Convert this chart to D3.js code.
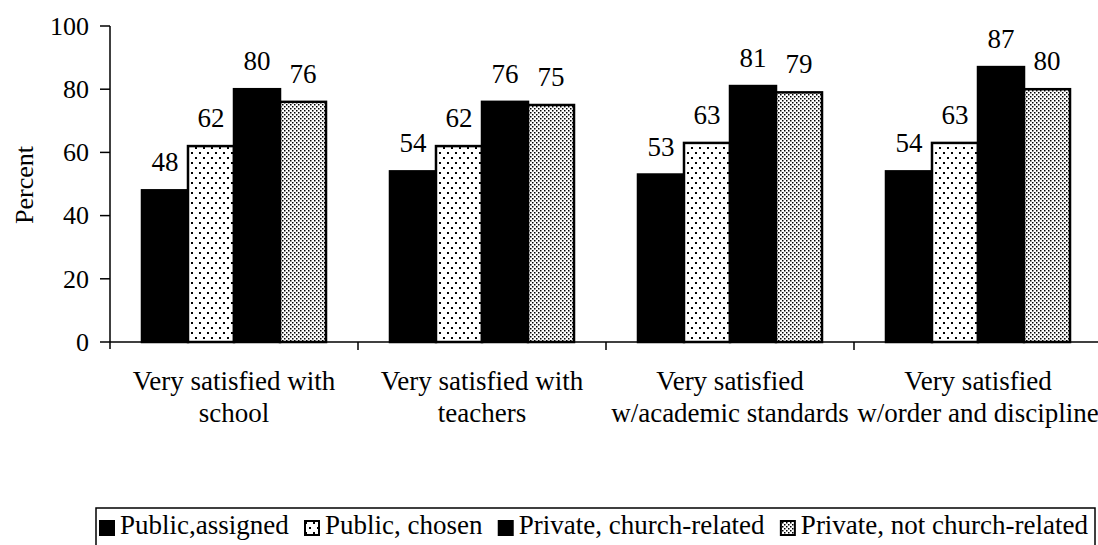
<!DOCTYPE html>
<html>
<head>
<meta charset="utf-8">
<script src="https://cdn.jsdelivr.net/npm/d3@7"></script>
<style>
  html, body { margin: 0; padding: 0; background: #fff; }
  svg { display: block; }
</style>
</head>
<body>
<div id="chart"></div>
<script>
// chart data
const categories = [
    ["Very satisfied with", "school"],
    ["Very satisfied with", "teachers"],
    ["Very satisfied", "w/academic standards"],
    ["Very satisfied", "w/order and discipline"]
];
const seriesNames = ["Public,assigned", "Public, chosen", "Private, church-related", "Private, not church-related"];
const publicAssigned = [48, 54, 53, 54];
const publicChosen = [62, 62, 63, 63];
const privateChurch = [80, 76, 81, 87];
const privateNotChurch = [76, 75, 79, 80];
const yTicks = [0, 20, 40, 60, 80, 100];

const seriesValues = [publicAssigned, publicChosen, privateChurch, privateNotChurch];
const fills = ["#000", "url(#dots)", "#000", "url(#dense)"];

const W = 1098, H = 545;
const svg = d3.select("#chart").append("svg")
    .attr("width", W).attr("height", H)
    .attr("font-family", "'Liberation Serif', Tinos, 'Times New Roman', 'DejaVu Serif', serif")
    .style("font-family", "'Liberation Serif', Tinos, 'Times New Roman', 'DejaVu Serif', serif");

// patterns
const defs = svg.append("defs");
const dots = defs.append("pattern").attr("id", "dots")
    .attr("patternUnits", "userSpaceOnUse").attr("width", 8).attr("height", 10);
dots.append("rect").attr("width", 8).attr("height", 10).attr("fill", "#fff");
dots.append("rect").attr("x", 1).attr("y", 2).attr("width", 2).attr("height", 2).attr("fill", "#000");
dots.append("rect").attr("x", 5).attr("y", 7).attr("width", 2).attr("height", 2).attr("fill", "#000");

const dense = defs.append("pattern").attr("id", "dense")
    .attr("patternUnits", "userSpaceOnUse").attr("width", 4).attr("height", 4);
dense.append("rect").attr("width", 4).attr("height", 4).attr("fill", "#fff");
dense.append("rect").attr("x", 0).attr("y", 0).attr("width", 1.5).attr("height", 1.5).attr("fill", "#000");
dense.append("rect").attr("x", 2).attr("y", 2).attr("width", 1.5).attr("height", 1.5).attr("fill", "#000");

// scales
const x0 = d3.scaleBand()
    .domain(d3.range(categories.length))
    .range([110, 1102])
    .paddingInner(0.258)
    .paddingOuter(0.129);
const x1 = d3.scaleBand()
    .domain(d3.range(seriesNames.length))
    .range([0, x0.bandwidth()]);
const y = d3.scaleLinear().domain([0, 100]).range([342, 26]);

// bars
const groups = svg.append("g").selectAll("g")
    .data(categories.map((c, i) => i))
    .join("g")
    .attr("transform", i => `translate(${x0(i)},0)`);

groups.selectAll("rect")
    .data(i => seriesValues.map((vals, s) => ({s, v: vals[i]})))
    .join("rect")
    .attr("x", d => x1(d.s))
    .attr("y", d => y(d.v))
    .attr("width", x1.bandwidth())
    .attr("height", d => y(0) - y(d.v))
    .attr("fill", d => fills[d.s])
    .attr("stroke", "#000")
    .attr("stroke-width", 2.5);

groups.selectAll("text.val")
    .data(i => seriesValues.map((vals, s) => ({s, v: vals[i]})))
    .join("text")
    .attr("class", "val")
    .attr("x", d => x1(d.s) + x1.bandwidth() / 2)
    .attr("y", d => y(d.v) - 19)
    .attr("text-anchor", "middle")
    .attr("font-size", 27)
    .text(d => d.v);

// y axis
const yAxis = svg.append("g");
yAxis.append("line")
    .attr("x1", 110).attr("x2", 110)
    .attr("y1", y(100)).attr("y2", y(0) + 7)
    .attr("stroke", "#000").attr("stroke-width", 1.5);
yAxis.selectAll("line.tick")
    .data(yTicks)
    .join("line")
    .attr("class", "tick")
    .attr("x1", 100).attr("x2", 110)
    .attr("y1", d => y(d)).attr("y2", d => y(d))
    .attr("stroke", "#000").attr("stroke-width", 1.5);
yAxis.selectAll("text")
    .data(yTicks)
    .join("text")
    .attr("x", 89)
    .attr("y", d => y(d))
    .attr("dy", "0.34em")
    .attr("text-anchor", "end")
    .attr("font-size", 26)
    .text(d => d);

svg.append("text")
    .attr("transform", "translate(33,185) rotate(-90)")
    .attr("text-anchor", "middle")
    .attr("font-size", 26)
    .text("Percent");

// x axis
const xAxis = svg.append("g");
xAxis.append("line")
    .attr("x1", 110).attr("x2", 1102)
    .attr("y1", y(0)).attr("y2", y(0))
    .attr("stroke", "#000").attr("stroke-width", 1.5);
xAxis.selectAll("line.tick")
    .data(d3.range(1, categories.length + 1))
    .join("line")
    .attr("class", "tick")
    .attr("x1", i => x0(0) - x0.step() * x0.paddingOuter() + i * x0.step())
    .attr("x2", i => x0(0) - x0.step() * x0.paddingOuter() + i * x0.step())
    .attr("y1", y(0)).attr("y2", y(0) + 8)
    .attr("stroke", "#000").attr("stroke-width", 1.5);

const catLabels = xAxis.selectAll("text")
    .data(categories)
    .join("text")
    .attr("text-anchor", "middle")
    .attr("font-size", 27)
    .attr("transform", (c, i) => `translate(${x0(i) + x0.bandwidth() / 2},0)`);
catLabels.selectAll("tspan")
    .data(c => c)
    .join("tspan")
    .attr("x", 0)
    .attr("y", (d, j) => 390 + j * 32)
    .text(d => d);

// legend
const legend = svg.append("g");
legend.append("rect")
    .attr("x", 96).attr("y", 508)
    .attr("width", 999).attr("height", 60)
    .attr("fill", "none").attr("stroke", "#000").attr("stroke-width", 1.5);

const legItems = legend.selectAll("g.item")
    .data(seriesNames)
    .join("g")
    .attr("class", "item");
legItems.append("rect")
    .attr("width", 14).attr("height", 14)
    .attr("y", 521)
    .attr("fill", (d, i) => fills[i])
    .attr("stroke", "#000").attr("stroke-width", 2);
legItems.append("text")
    .attr("y", 534)
    .attr("font-size", 27)
    .text(d => d);

// lay items out left to right, spreading the leftover space between them
const legStart = 100, legEnd = 1088, boxW = 14, boxGap = 6;
const textW = [];
legItems.select("text").each(function() { textW.push(this.getComputedTextLength()); });
const used = d3.sum(textW) + seriesNames.length * (boxW + boxGap);
const itemGap = Math.max(8, (legEnd - legStart - used) / (seriesNames.length - 1));
let cx = legStart;
legItems.each(function(d, i) {
    const g = d3.select(this);
    g.select("rect").attr("x", cx);
    g.select("text").attr("x", cx + boxW + boxGap);
    cx += boxW + boxGap + textW[i] + itemGap;
});
</script>
</body>
</html>
